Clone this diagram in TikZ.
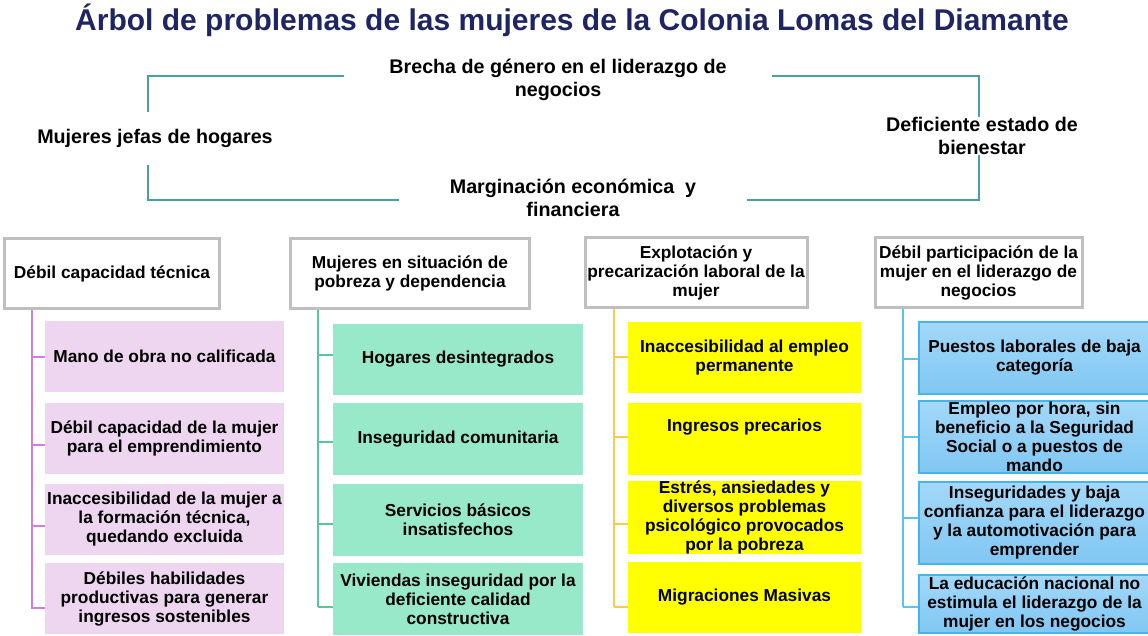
\documentclass[tikz,border=0pt]{standalone}
\usepackage{fontspec}
\setmainfont{Liberation Sans}
\usetikzlibrary{calc}
\definecolor{navy}{HTML}{1F2562}
\definecolor{framec}{HTML}{4A9FA5}
\definecolor{hdrgray}{HTML}{BFBFBF}
\definecolor{lavfill}{HTML}{EED6F1}
\definecolor{lavline}{HTML}{D07FDD}
\definecolor{tealfill}{HTML}{98E9C9}
\definecolor{tealline}{HTML}{55C79C}
\definecolor{yelfill}{HTML}{FFFF00}
\definecolor{yelline}{HTML}{FFC94D}
\definecolor{bluetop}{HTML}{A3D8F9}
\definecolor{bluebot}{HTML}{80C7F3}
\definecolor{blueborder}{HTML}{45B5EA}
\definecolor{blueline}{HTML}{5AC3EE}
\begin{document}
\begin{tikzpicture}[x=1pt,y=-1pt,
  toplabel/.style={fill=white, align=center, inner sep=0pt, font=\bfseries\fontsize{19.7}{23}\selectfont},
  hdr/.style={draw=hdrgray, line width=3pt, fill=white, inner sep=0pt, align=center, font=\bfseries\fontsize{17.3}{19}\selectfont},
  child/.style={inner sep=0pt, align=center, font=\bfseries\fontsize{17.3}{19}\selectfont, text=black},
  lav/.style={child, fill=lavfill},
  teal/.style={child, fill=tealfill},
  yel/.style={child, fill=yelfill},
  blu/.style={child, draw=blueborder, line width=1.5pt, top color=bluetop, bottom color=bluebot},
  frame/.style={draw=framec, line width=1.8pt},
  trunk/.style={line width=1.6pt}
]
\useasboundingbox (0,0) rectangle (1148,635);
\fill[white] (0,0) rectangle (1148,635);

% title
\node[anchor=base, text=navy, inner sep=0pt, font=\bfseries\fontsize{30}{34}\selectfont] (title) at (572,30.5) {Árbol de problemas de las mujeres de la Colonia Lomas del Diamante};

% top frame
\draw[frame] (148,76) rectangle (979,200);
\node[toplabel, minimum width=428, inner ysep=2pt] (brecha) at (558,80) {Brecha de género en el liderazgo de\\negocios};
\node[toplabel, minimum height=53] (mujeres) at (155,138) {Mujeres jefas de hogares};
\node[toplabel] (deficiente) at (982,136) {Deficiente estado de\\bienestar};
\node[toplabel, minimum width=348, inner ysep=2pt] (margin) at (573,198) {Marginación económica~ y\\financiera};

% headers
\node[hdr, minimum width=215, minimum height=70] (h1) at (112,273.5) {Débil capacidad técnica};
\node[hdr, minimum width=239, minimum height=70] (h2) at (410,273.5) {Mujeres en situación de\\pobreza y dependencia};
\node[hdr, minimum width=222, minimum height=70] (h3) at (696,272.5) {Explotación y\\precarización laboral de la\\mujer};
\node[hdr, minimum width=207, minimum height=70] (h4) at (978.5,272.5) {Débil participación de la\\mujer en el liderazgo de\\negocios};

% column 1
\node[lav, minimum width=239, minimum height=71] (c11) at (164.5,356.5) {Mano de obra no calificada};
\node[lav, minimum width=239, minimum height=71] (c12) at (164.5,438.5) {Débil capacidad de la mujer\\para el emprendimiento};
\node[lav, minimum width=239, minimum height=71] (c13) at (164.5,519.5) {Inaccesibilidad de la mujer a\\la formación técnica,\\quedando excluida};
\node[lav, minimum width=239, minimum height=71] (c14) at (164.5,598.5) {Débiles habilidades\\productivas para generar\\ingresos sostenibles};

% column 2
\node[teal, minimum width=250, minimum height=71] (c21) at (458,359.5) {Hogares desintegrados};
\node[teal, minimum width=250, minimum height=72] (c22) at (458,439) {Inseguridad comunitaria};
\node[teal, minimum width=250, minimum height=72] (c23) at (458,520) {Servicios básicos\\insatisfechos};
\node[teal, minimum width=250, minimum height=72] (c24) at (458,599) {Viviendas inseguridad por la\\deficiente calidad\\constructiva};

% column 3
\node[yel, minimum width=233, minimum height=71] (c31) at (744.5,357.5) {Inaccesibilidad al empleo\\permanente};
\node[yel, minimum width=233, minimum height=72] (c32) at (744.5,439) {Ingresos precarios\\[8pt]\mbox{}};
\node[yel, minimum width=233, minimum height=71] (c33) at (744.5,517.5) {Estrés, ansiedades y\\diversos problemas\\psicológico provocados\\por la pobreza};
\node[yel, minimum width=233, minimum height=71] (c34) at (744.5,597.5) {Migraciones Masivas};

% column 4
\node[blu, minimum width=231, minimum height=72] (c41) at (1034.5,358) {Puestos laborales de baja\\categoría};
\node[blu, minimum width=231, minimum height=72] (c42) at (1034.5,437) {Empleo por hora, sin\\beneficio a la Seguridad\\Social o a puestos de\\mando};
\node[blu, minimum width=231, minimum height=82] (c43) at (1034.5,523) {Inseguridades y baja\\confianza para el liderazgo\\y la automotivación para\\emprender};
\node[blu, minimum width=231, minimum height=58] (c44) at (1034.5,604) {La educación nacional no\\estimula el liderazgo de la\\mujer en los negocios};

% trunks and ticks
\coordinate (t1) at (32,0);
\coordinate (t2) at (318,0);
\coordinate (t3) at (614,0);
\coordinate (t4) at (903,0);

\foreach \n/\d in {c11/0.5,c12/6.5,c13/6.5,c14/9.5,c21/-4.5,c22/3,c23/4,c24/8,c31/-0.5,c32/-2,c33/6.5,c34/9.5,c41/1,c42/0,c43/-5,c44/3}
  \path ([yshift=-\d]\n.west) coordinate (\n-tk);

\draw[trunk, draw=lavline] (h1.south -| t1) -- (c14-tk -| t1);
\foreach \n in {c11,c12,c13,c14} \draw[trunk, draw=lavline] ([xshift=-1]\n-tk -| t1) -- (\n-tk);
\draw[trunk, draw=tealline] (h2.south -| t2) -- (c24-tk -| t2);
\foreach \n in {c21,c22,c23,c24} \draw[trunk, draw=tealline] (\n-tk -| t2) -- (\n-tk);
\draw[trunk, draw=yelline] (h3.south -| t3) -- (c34-tk -| t3);
\foreach \n in {c31,c32,c33,c34} \draw[trunk, draw=yelline] (\n-tk -| t3) -- (\n-tk);
\draw[trunk, draw=blueline] (h4.south -| t4) -- (c44-tk -| t4);
\foreach \n in {c41,c42,c43,c44} \draw[trunk, draw=blueline] (\n-tk -| t4) -- (\n-tk);
\end{tikzpicture}
\end{document}
